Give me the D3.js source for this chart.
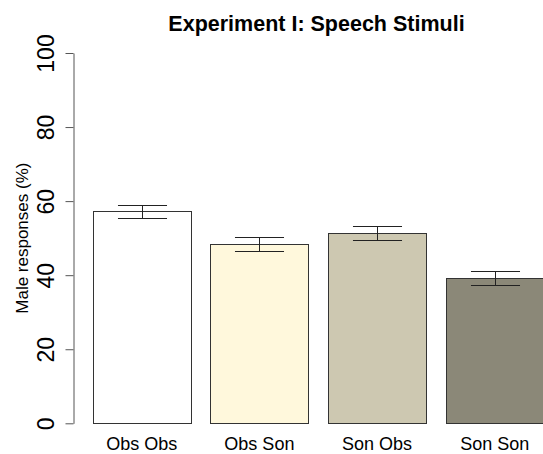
<!DOCTYPE html>
<html>
<head>
<meta charset="utf-8">
<script src="https://cdn.jsdelivr.net/npm/d3@7"></script>
<style>
  html, body { margin: 0; padding: 0; background: #fff; }
  svg { display: block; font-family: "Liberation Sans", Arial, Helvetica, sans-serif; }
</style>
</head>
<body>
<svg id="chart" width="543" height="454"></svg>
<script>
const categories = ["Obs Obs", "Obs Son", "Son Obs", "Son Son"];
const values = [57.2, 48.4, 51.3, 39.2];
const errors = [1.85, 1.8, 1.85, 1.8];
const colors = ["#FFFFFF", "#FFF8DC", "#CDC8B1", "#8B8878"];
const yTicks = [0, 20, 40, 60, 80, 100];
const title = "Experiment I: Speech Stimuli";
const yLabel = "Male responses (%)";

const svg = d3.select("#chart");
const space = 0.2, barW = 1;
// R barplot-style unit positions
const x = d3.scaleLinear().domain([0, 4.8]).range([73, 73 + 98.1 * 4.8]);
const y = d3.scaleLinear().domain([0, 100]).range([423.3, 53]);

const bars = categories.map((c, i) => ({
  cat: c, v: values[i], e: errors[i], col: colors[i],
  x0: space + i * (barW + space), x1: space + i * (barW + space) + barW
}));

// bars
svg.append("g").selectAll("rect").data(bars).join("rect")
  .attr("x", d => Math.round(x(d.x0)) + 0.5)
  .attr("y", d => Math.round(y(d.v)) + 0.5)
  .attr("width", d => Math.round(x(d.x1)) - Math.round(x(d.x0)))
  .attr("height", d => Math.round(y(0)) - Math.round(y(d.v)))
  .attr("fill", d => d.col)
  .attr("stroke", "#333")
  .attr("stroke-width", 1);

// error bars
const eg = svg.append("g").attr("stroke", "#222").attr("stroke-width", 1).attr("fill", "none");
bars.forEach(d => {
  const cx = Math.round(x((d.x0 + d.x1) / 2)) + 0.5;
  const half = x(0.25) - x(0);
  const yt = Math.round(y(d.v + d.e)) + 0.5;
  const yb = Math.round(y(d.v - d.e)) + 0.5;
  eg.append("line").attr("x1", cx).attr("x2", cx).attr("y1", yt).attr("y2", yb);
  eg.append("line").attr("x1", cx - half).attr("x2", cx + half).attr("y1", yt).attr("y2", yt);
  eg.append("line").attr("x1", cx - half).attr("x2", cx + half).attr("y1", yb).attr("y2", yb);
});

// y axis
const axisX = 73.5;
const ya = svg.append("g").attr("transform", `translate(${axisX},0)`);
ya.call(d3.axisLeft(y).tickValues(yTicks).tickSize(8).tickSizeOuter(0).tickFormat(d3.format("d")));
ya.select(".domain").attr("stroke", "#555");
ya.selectAll(".tick line").attr("stroke", "#555");
ya.selectAll(".tick text")
  .attr("x", null).attr("dy", null)
  .attr("transform", d => `translate(-20,0) rotate(-90)`)
  .attr("text-anchor", "middle")
  .attr("font-size", 23)
  .attr("font-family", "Liberation Sans, Arial, sans-serif")
  .attr("fill", "#000");

// x category labels
svg.append("g").selectAll("text").data(bars).join("text")
  .attr("x", d => x((d.x0 + d.x1) / 2))
  .attr("y", 450)
  .attr("text-anchor", "middle")
  .attr("font-size", 18)
  .attr("fill", "#000")
  .text(d => d.cat);

// y label
svg.append("text")
  .attr("transform", `translate(28,${(y(0) + y(100)) / 2}) rotate(-90)`)
  .attr("text-anchor", "middle")
  .attr("font-size", 17)
  .attr("fill", "#000")
  .text(yLabel);

// title
svg.append("text")
  .attr("x", 316.5)
  .attr("y", 31)
  .attr("text-anchor", "middle")
  .attr("font-size", 21.5)
  .attr("font-weight", "bold")
  .attr("fill", "#000")
  .text(title);
</script>
</body>
</html>
